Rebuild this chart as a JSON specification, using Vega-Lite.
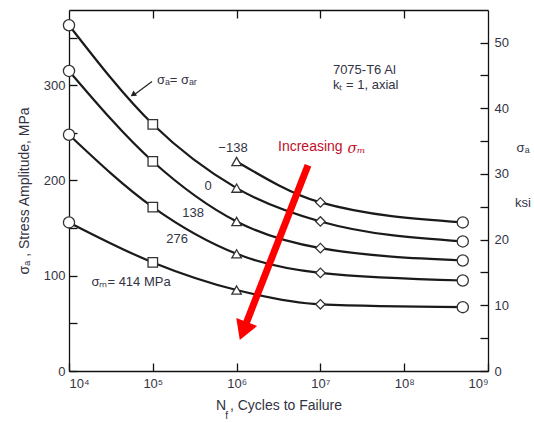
{
  "$schema": "https://vega.github.io/schema/vega-lite/v6.json",
  "autosize": "none",
  "width": 419,
  "height": 361,
  "padding": {"left": 69, "top": 10, "right": 46, "bottom": 52},
  "background": "white",
  "config": {
    "view": {"stroke": null},
    "font": "Liberation Sans",
    "axis": {"domainColor": "#111", "tickColor": "#111", "labelColor": "#333344", "titleColor": "#333344", "labelFont": "Liberation Sans", "titleFont": "Liberation Sans", "titleFontWeight": "normal", "grid": false, "domainWidth": 1.3, "tickWidth": 1.3}
  },
  "datasets": {
    "curves": [
      {"sm": "-138", "N": 1000000, "S": 220, "shape": "triangle-up"},
      {"sm": "-138", "N": 10000000, "S": 177, "shape": "diamond"},
      {"sm": "-138", "N": 500000000, "S": 156, "shape": "circle"},
      {"sm": "0", "N": 10000, "S": 363, "shape": "circle"},
      {"sm": "0", "N": 100000, "S": 259, "shape": "square"},
      {"sm": "0", "N": 1000000, "S": 192, "shape": "triangle-up"},
      {"sm": "0", "N": 10000000, "S": 157, "shape": "diamond"},
      {"sm": "0", "N": 500000000, "S": 136, "shape": "circle"},
      {"sm": "138", "N": 10000, "S": 315, "shape": "circle"},
      {"sm": "138", "N": 100000, "S": 220, "shape": "square"},
      {"sm": "138", "N": 1000000, "S": 157, "shape": "triangle-up"},
      {"sm": "138", "N": 10000000, "S": 129, "shape": "diamond"},
      {"sm": "138", "N": 500000000, "S": 116, "shape": "circle"},
      {"sm": "276", "N": 10000, "S": 248, "shape": "circle"},
      {"sm": "276", "N": 100000, "S": 172, "shape": "square"},
      {"sm": "276", "N": 1000000, "S": 123, "shape": "triangle-up"},
      {"sm": "276", "N": 10000000, "S": 103, "shape": "diamond"},
      {"sm": "276", "N": 500000000, "S": 95, "shape": "circle"},
      {"sm": "414", "N": 10000, "S": 156, "shape": "circle"},
      {"sm": "414", "N": 100000, "S": 114, "shape": "square"},
      {"sm": "414", "N": 1000000, "S": 85, "shape": "triangle-up"},
      {"sm": "414", "N": 10000000, "S": 70, "shape": "diamond"},
      {"sm": "414", "N": 500000000, "S": 67, "shape": "circle"}
    ]
  },
  "layer": [
    {
      "layer": [
        {
          "data": {"name": "curves"},
          "mark": {"type": "line", "interpolate": "monotone", "color": "#1a1a1a", "strokeWidth": 2.2},
          "encoding": {
            "x": {"field": "N", "type": "quantitative", "scale": {"type": "log", "domain": [10000, 1000000000], "nice": false},
              "axis": {"title": "N  , Cycles to Failure", "titleFontSize": 14, "titlePadding": 8, "values": [10000, 100000, 1000000, 10000000, 100000000, 1000000000], "tickSize": -8, "labelPadding": 14, "labelFontSize": 13, "labelExpr": "'10' + ['⁰','¹','²','³','⁴','⁵','⁶','⁷','⁸','⁹'][round(log(datum.value)/LN10)]"}},
            "y": {"field": "S", "type": "quantitative", "scale": {"domain": [0, 379], "nice": false},
              "axis": {"title": "σₐ , Stress Amplitude, MPa", "titleFontSize": 14, "titlePadding": 12, "values": [0, 50, 100, 150, 200, 250, 300, 350], "tickSize": -8, "labelPadding": 12, "labelFontSize": 13, "labelExpr": "datum.value % 100 == 0 ? datum.label : ''"}},
            "detail": {"field": "sm"}
          }
        },
        {
          "data": {"name": "curves"},
          "mark": {"type": "point", "filled": true, "fill": "white", "stroke": "#333", "strokeWidth": 1.3, "opacity": 1},
          "encoding": {
            "x": {"field": "N", "type": "quantitative"},
            "y": {"field": "S", "type": "quantitative"},
            "shape": {"field": "shape", "type": "nominal", "scale": null},
            "size": {"condition": {"test": "datum.shape == 'circle'", "value": 125}, "value": 90}
          }
        },
        {
          "data": {"values": [
            {"N": 906000, "S": 234, "t": "−138"},
            {"N": 456000, "S": 194, "t": "0"},
            {"N": 302000, "S": 166, "t": "138"},
            {"N": 194500, "S": 138.5, "t": "276"},
            {"N": 55000, "S": 93.4, "t": "σₘ= 414 MPa"}
          ]},
          "mark": {"type": "text", "align": "center", "baseline": "middle", "fontSize": 13, "color": "#333344"},
          "encoding": {"x": {"field": "N", "type": "quantitative"}, "y": {"field": "S", "type": "quantitative"}, "text": {"field": "t"}}
        },
        {
          "data": {"values": [
            {"N": 14100000, "S": 316, "t": "7075-T6 Al"},
            {"N": 14100000, "S": 300, "t": "kₜ = 1, axial"},
            {"N": 112000, "S": 305, "t": "σₐ= σₐᵣ"}
          ]},
          "mark": {"type": "text", "align": "left", "baseline": "middle", "fontSize": 13, "color": "#333344"},
          "encoding": {"x": {"field": "N", "type": "quantitative"}, "y": {"field": "S", "type": "quantitative"}, "text": {"field": "t"}}
        },
        {
          "data": {"values": [
            {"N": 2620000000, "S": 234, "t": "σₐ"},
            {"N": 2620000000, "S": 176, "t": "ksi"}
          ]},
          "mark": {"type": "text", "align": "center", "baseline": "middle", "fontSize": 13, "color": "#333344", "clip": false},
          "encoding": {"x": {"field": "N", "type": "quantitative"}, "y": {"field": "S", "type": "quantitative"}, "text": {"field": "t"}}
        },
        {
          "data": {"values": [{"N": 760000, "S": -47, "t": "f"}]},
          "mark": {"type": "text", "align": "center", "baseline": "middle", "fontSize": 10, "color": "#333344"},
          "encoding": {"x": {"field": "N", "type": "quantitative"}, "y": {"field": "S", "type": "quantitative"}, "text": {"field": "t"}}
        },
        {
          "data": {"values": [{"N": 3120000, "S": 235, "t": "Increasing"}]},
          "mark": {"type": "text", "align": "left", "baseline": "middle", "fontSize": 14, "color": "#c0102a"},
          "encoding": {"x": {"field": "N", "type": "quantitative"}, "y": {"field": "S", "type": "quantitative"}, "text": {"field": "t"}}
        },
        {
          "data": {"values": [{"N": 21000000, "S": 233, "t": "σₘ"}]},
          "mark": {"type": "text", "align": "left", "baseline": "middle", "fontSize": 14, "fontStyle": "italic", "font": "DejaVu Serif", "color": "#c0102a"},
          "encoding": {"x": {"field": "N", "type": "quantitative"}, "y": {"field": "S", "type": "quantitative"}, "text": {"field": "t"}}
        },
        {
          "data": {"values": [{"N": 7110000, "S": 216, "N2": 1260000, "S2": 47}]},
          "mark": {"type": "rule", "color": "#ff0000", "strokeWidth": 7},
          "encoding": {"x": {"field": "N", "type": "quantitative"}, "y": {"field": "S", "type": "quantitative"}, "x2": {"field": "N2"}, "y2": {"field": "S2"}}
        },
        {
          "data": {"values": [{"N": 1200000, "S": 42}]},
          "mark": {"type": "point", "shape": "triangle-down", "filled": true, "color": "#ff0000", "opacity": 1, "size": 500, "angle": 21},
          "encoding": {"x": {"field": "N", "type": "quantitative"}, "y": {"field": "S", "type": "quantitative"}}
        },
        {
          "data": {"values": [{"N": 60000, "S": 290, "N2": 97800, "S2": 304}]},
          "mark": {"type": "rule", "color": "#222", "strokeWidth": 1.2},
          "encoding": {"x": {"field": "N", "type": "quantitative"}, "y": {"field": "S", "type": "quantitative"}, "x2": {"field": "N2"}, "y2": {"field": "S2"}}
        },
        {
          "data": {"values": [{"N": 58000, "S": 290}]},
          "mark": {"type": "point", "shape": "triangle-down", "filled": true, "color": "#222", "opacity": 1, "size": 40, "angle": 56},
          "encoding": {"x": {"field": "N", "type": "quantitative"}, "y": {"field": "S", "type": "quantitative"}}
        }
      ]
    },
    {
      "data": {"values": [{"N": 10000, "K": 0}, {"N": 1000000000, "K": 54.97}]},
      "mark": {"type": "point", "opacity": 0},
      "encoding": {
        "x": {"field": "N", "type": "quantitative", "scale": {"type": "log", "domain": [10000, 1000000000], "nice": false},
          "axis": {"orient": "top", "title": null, "labels": false, "values": [100000, 1000000, 10000000, 100000000], "tickSize": -8}},
        "y": {"field": "K", "type": "quantitative", "scale": {"domain": [0, 54.97], "nice": false},
          "axis": {"orient": "right", "title": null, "values": [0, 5, 10, 15, 20, 25, 30, 35, 40, 45, 50], "tickSize": -8, "labelPadding": 14, "labelFontSize": 13, "labelExpr": "datum.value % 10 == 0 ? datum.label : ''"}}
      }
    }
  ],
  "resolve": {"scale": {"x": "independent", "y": "independent"}, "axis": {"x": "independent", "y": "independent"}}
}
